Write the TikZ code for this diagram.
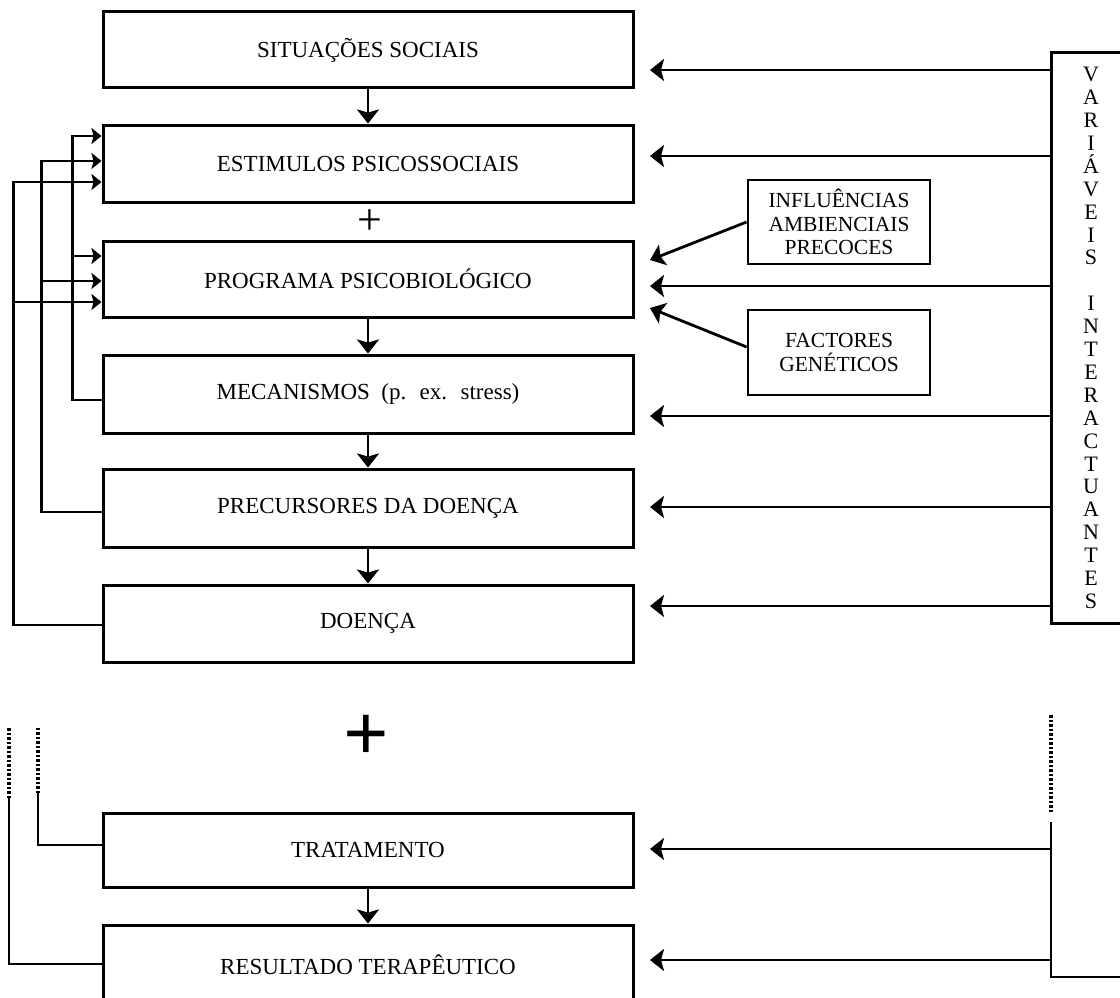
\documentclass[tikz,border=0pt]{standalone}
\usepackage{fontspec}
\setmainfont{Liberation Serif}
\usetikzlibrary{arrows.meta}

\begin{document}
\begin{tikzpicture}[
    x=1pt, y=-1pt,
    box/.style={draw, line width=3pt, minimum width=530pt, inner sep=0pt, font=\fontsize{23}{26}\selectfont},
    sidebox/.style={draw, line width=2.8pt, minimum width=182pt, minimum height=84pt, inner sep=0pt, align=center, font=\fontsize{21.5}{23.5}\selectfont},
    link/.style={line width=2.8pt},
    flow/.style={line width=2.8pt, -{Stealth[length=14pt,width=22pt,inset=3pt]}},
    feed/.style={line width=2.8pt, -{Stealth[length=10pt,width=16pt,inset=2pt]}},
    dots/.style={line width=3.2pt, dash pattern=on 2.5pt off 2pt}
]
\useasboundingbox (0,0) rectangle (1120,998);
\clip (0,0) rectangle (1120,998);

\node[box, minimum height=76pt] (sit) at (368,50) {SITUAÇÕES SOCIAIS};
\node[box, minimum height=77pt] (est) at (368,163.5) {ESTIMULOS PSICOSSOCIAIS};
\node[box, minimum height=76pt] (prog) at (368,279) {PROGRAMA PSICOBIOLÓGICO};
\node[box, minimum height=78pt] (mec) at (368,394) {MECANISMOS~ (p.~ ex.~ stress)};
\node[box, minimum height=78pt] (prec) at (368,508) {PRECURSORES DA DOENÇA};
\node[box, minimum height=77pt] (doe) at (368,623.5) {DOENÇA};
\node[box, minimum height=74pt] (trat) at (368,850) {TRATAMENTO};
\node[box, minimum height=80pt] (res) at (368,965) {RESULTADO TERAPÊUTICO};

\node[font=\fontsize{44}{44}\selectfont] (plusA) at (370,222) {+};
\node[font=\bfseries\fontsize{80}{80}\selectfont] (plusB) at (366,738) {+};

\node[sidebox] (inf) at (839,222) {INFLUÊNCIAS\\AMBIENCIAIS\\PRECOCES};
\node[sidebox, minimum height=85pt] (fac) at (839,352.5) {FACTORES\\GENÉTICOS};

\node[draw, line width=3pt, minimum width=80pt, minimum height=570pt, inner sep=0pt, align=center,
      font=\fontsize{22}{22.9}\selectfont] (var) at (1091,338)
    {V\\A\\R\\I\\Á\\V\\E\\I\\S\\[22.9pt]I\\N\\T\\E\\R\\A\\C\\T\\U\\A\\N\\T\\E\\S};

\draw[flow] (sit) -- (est);
\draw[flow] (prog) -- (mec);
\draw[flow] (mec) -- (prec);
\draw[flow] (prec) -- (doe);
\draw[flow] (trat) -- (res);

\coordinate (aSit) at (650,70);
\coordinate (aEst) at (650,156);
\coordinate (aInf) at (650,260);
\coordinate (aProg) at (650,286);
\coordinate (aFac) at (650,308);
\coordinate (aMec) at (650,416);
\coordinate (aPrec) at (650,507);
\coordinate (aDoe) at (650,606);
\coordinate (aTrat) at (650,849);
\coordinate (aRes) at (650,960);

\draw[flow] (var.west |- aSit) -- (aSit);
\draw[flow] (var.west |- aEst) -- (aEst);
\draw[flow] (var.west |- aProg) -- (aProg);
\draw[flow] (inf.west) -- (aInf);
\draw[flow] ([yshift=5.5pt]fac.west) -- (aFac);
\draw[flow] (var.west |- aMec) -- (aMec);
\draw[flow] (var.west |- aPrec) -- (aPrec);
\draw[flow] (var.west |- aDoe) -- (aDoe);
\draw[flow] (var.west |- aTrat) -- (aTrat);
\draw[flow] (var.west |- aRes) -- (aRes);

\draw[feed] ([yshift=-6pt]mec.west) -- ++(-29,0) |- ([yshift=27.5pt]est.west);
\draw[feed] ([yshift=23pt]prog.west) ++(-29,0) -- ++(29,0);
\draw[feed] ([yshift=-4pt]prec.west) -- ++(-60,0) |- ([yshift=2.5pt]est.west);
\draw[feed] ([yshift=-2pt]prog.west) ++(-60,0) -- ++(60,0);
\draw[feed] ([yshift=-1.5pt]doe.west) -- ++(-88,0) |- ([yshift=-18.5pt]est.west);
\draw[feed] ([yshift=-23pt]prog.west) ++(-88,0) -- ++(88,0);

\coordinate (upM) at (38,727);
\coordinate (upL) at (9,727);
\coordinate (upR) at (1051,715);

\draw[link] ([yshift=5pt]trat.west) -| (38,793);
\draw[dots] (38,793) -- (upM);
\draw[link] ([yshift=1pt]res.west) -| (9,798);
\draw[dots] (9,798) -- (upL);
\draw[dots] (upR) -- (1051,813);
\draw[link] (1051,822) -- (1051,977) -- (1140,977);

\end{tikzpicture}
\end{document}
